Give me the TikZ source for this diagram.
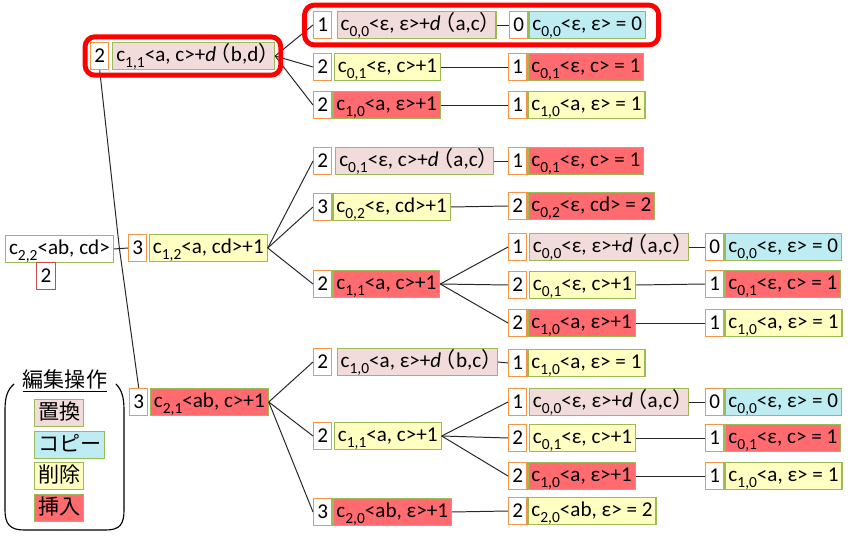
\documentclass[tikz,border=0pt]{standalone}
\usepackage{fontspec}
\setmainfont{Carlito}
\newfontfamily\jp{Noto Sans CJK JP}
\usetikzlibrary{positioning}
\definecolor{subfill}{HTML}{F2DCDB}
\definecolor{copyfill}{HTML}{BEECF3}
\definecolor{delfill}{HTML}{FFFFC2}
\definecolor{insfill}{HTML}{FF6B6E}
\definecolor{opline}{HTML}{9BBB59}
\definecolor{costline}{HTML}{F79646}
\definecolor{rootline}{HTML}{C0504D}
\newcommand\cij[1]{c\raisebox{-0.6ex}{\fontsize{11}{11}\selectfont #1}}
\newcommand\dist[1]{\textit{d}\kern-0.3em{\jp （}#1{\jp ）}\kern-0.4em}
\tikzstyle{cost}=[rectangle, draw=costline, fill=white, line width=0.8pt, anchor=west, minimum width=13pt, minimum height=19.5pt, inner sep=1pt]
\tikzstyle{op}=[rectangle, draw=opline, line width=0.8pt, minimum height=19.5pt, inner xsep=2.5pt, inner ysep=2pt, text height=11pt, text depth=3.5pt]
\tikzstyle{opsub}=[op, fill=subfill]
\tikzstyle{opcopy}=[op, fill=copyfill]
\tikzstyle{opdel}=[op, fill=delfill]
\tikzstyle{opins}=[op, fill=insfill]
\tikzstyle{legend}=[op, anchor=west, font=\fontsize{15}{18}\selectfont\jp, text height=12pt, text depth=2.5pt]
\tikzstyle{link}=[draw, black!85, line width=0.7pt]
\tikzstyle{hilite}=[draw=red, line width=3.5pt, rounded corners=7pt]

\begin{document}
\begin{tikzpicture}[x=0.025cm, y=-0.025cm, every node/.style={font=\fontsize{15}{18}\selectfont}]
    \useasboundingbox (0,0) rectangle (850,544);

    % root
    \node[op, fill=white, anchor=west] (root) at (5,249) {\cij{2,2}<ab, cd>};
    \node[cost, draw=rootline, anchor=center] (rootn) at (46,276) {2};

    % first step
    \node[cost] (c11n) at (90,56) {2};
    \node[opsub] (c11) [right=2pt of c11n] {\cij{1,1}<a, c>+\dist{b,d}};
    \node[cost] (c12n) at (128,248) {3};
    \node[opdel] (c12) [right=1pt of c12n] {\cij{1,2}<a, cd>+1};
    \node[cost] (c21n) at (129,402) {3};
    \node[opins] (c21) [right=1pt of c21n] {\cij{2,1}<ab, c>+1};

    % below c11
    \node[cost] (p1n) at (313,25) {1};
    \node[opsub] (p1) [right=3pt of p1n] {\cij{0,0}<ε, ε>+\dist{a,c}};
    \node[cost] (p1en) at (509,25) {0};
    \node[opcopy] (p1e) [right=0pt of p1en] {\cij{0,0}<ε, ε> = 0};
    \node[cost] (p2n) at (313,67) {2};
    \node[opdel] (p2) [right=1pt of p2n] {\cij{0,1}<ε, c>+1};
    \node[cost] (p2en) at (508,67) {1};
    \node[opins] (p2e) [right=0pt of p2en] {\cij{0,1}<ε, c> = 1};
    \node[cost] (p3n) at (313,105) {2};
    \node[opins] (p3) [right=0pt of p3n] {\cij{1,0}<a, ε>+1};
    \node[cost] (p3en) at (508,105) {1};
    \node[opdel] (p3e) [right=0pt of p3en] {\cij{1,0}<a, ε> = 1};

    % below c12
    \node[cost] (q1n) at (313,161) {2};
    \node[opsub] (q1) [right=2pt of q1n] {\cij{0,1}<ε, c>+\dist{a,c}};
    \node[cost] (q1en) at (508,161) {1};
    \node[opins] (q1e) [right=0pt of q1en] {\cij{0,1}<ε, c> = 1};
    \node[cost] (q2n) at (313,207) {3};
    \node[opdel] (q2) [right=0pt of q2n] {\cij{0,2}<ε, cd>+1};
    \node[cost] (q2en) at (508,206) {2};
    \node[opins] (q2e) [right=0pt of q2en] {\cij{0,2}<ε, cd> = 2};
    \node[cost] (q3n) at (313,284) {2};
    \node[opins] (q3) [right=0pt of q3n] {\cij{1,1}<a, c>+1};
    \node[cost] (q31n) at (508,247) {1};
    \node[opsub] (q31) [right=1pt of q31n] {\cij{0,0}<ε, ε>+\dist{a,c}};
    \node[cost] (q31en) at (705,247) {0};
    \node[opcopy] (q31e) [right=0pt of q31en] {\cij{0,0}<ε, ε> = 0};
    \node[cost] (q32n) at (508,285) {2};
    \node[opdel] (q32) [right=1pt of q32n] {\cij{0,1}<ε, c>+1};
    \node[cost] (q32en) at (705,284) {1};
    \node[opins] (q32e) [right=0pt of q32en] {\cij{0,1}<ε, c> = 1};
    \node[cost] (q33n) at (508,323) {2};
    \node[opins] (q33) [right=0pt of q33n] {\cij{1,0}<a, ε>+1};
    \node[cost] (q33en) at (705,323) {1};
    \node[opdel] (q33e) [right=0pt of q33en] {\cij{1,0}<a, ε> = 1};

    % below c21
    \node[cost] (r1n) at (313,362) {2};
    \node[opsub] (r1) [right=3pt of r1n] {\cij{1,0}<a, ε>+\dist{b,c}};
    \node[cost] (r1en) at (508,363) {1};
    \node[opdel] (r1e) [right=0pt of r1en] {\cij{1,0}<a, ε> = 1};
    \node[cost] (r2n) at (313,436) {2};
    \node[opdel] (r2) [right=1pt of r2n] {\cij{1,1}<a, c>+1};
    \node[cost] (r21n) at (508,402) {1};
    \node[opsub] (r21) [right=1pt of r21n] {\cij{0,0}<ε, ε>+\dist{a,c}};
    \node[cost] (r21en) at (705,402) {0};
    \node[opcopy] (r21e) [right=0pt of r21en] {\cij{0,0}<ε, ε> = 0};
    \node[cost] (r22n) at (508,438) {2};
    \node[opdel] (r22) [right=1pt of r22n] {\cij{0,1}<ε, c>+1};
    \node[cost] (r22en) at (705,438) {1};
    \node[opins] (r22e) [right=0pt of r22en] {\cij{0,1}<ε, c> = 1};
    \node[cost] (r23n) at (508,476) {2};
    \node[opins] (r23) [right=0pt of r23n] {\cij{1,0}<a, ε>+1};
    \node[cost] (r23en) at (705,476) {1};
    \node[opdel] (r23e) [right=0pt of r23en] {\cij{1,0}<a, ε> = 1};
    \node[cost] (r3n) at (313,512) {3};
    \node[opins] (r3) [right=0pt of r3n] {\cij{2,0}<ab, ε>+1};
    \node[cost] (r3en) at (508,511) {2};
    \node[opdel] (r3e) [right=0pt of r3en] {\cij{2,0}<ab, ε> = 2};

    % connectors
    \coordinate (fork) at ([xshift=4pt]root.east);
    \draw[link] (root.east) -- (c12n.west);
    \draw[link] (fork) edge (c11n.south) edge (c21n.north);
    \draw[link] (c11.east) edge (p1n.west) edge (p2n.west) edge (p3n.west);
    \draw[link] (c12.east) edge (q1n.west) edge (q2n.west) edge (q3n.west);
    \draw[link] (q3.east) edge (q31n.west) edge (q32n.west) edge (q33n.west);
    \draw[link] (c21.east) edge (r1n.west) edge (r2n.west) edge (r3n.west);
    \draw[link] (r2.east) edge (r21n.west) edge (r22n.west) edge (r23n.west);
    \foreach \a in {p1,p2,p3,q1,q2,q31,q32,q33,r1,r21,r22,r23,r3}
        \draw[link] (\a.east) -- (\a en.west);

    % highlighted path
    \draw[hilite] ([xshift=-3.5pt,yshift=3.5pt]c11n.north west) rectangle ([xshift=4pt,yshift=-3.5pt]c11.south east);
    \draw[hilite] ([xshift=-6pt,yshift=4pt]p1n.north west) rectangle ([xshift=9pt,yshift=-4pt]p1e.south east);

    % legend
    \node[font=\fontsize{15}{18}\selectfont\jp] (legtitle) at (65,381) {\underline{編集操作}};
    \node[legend, fill=subfill] (lsub) at (34,413) {置換};
    \node[legend, fill=copyfill] (lcopy) at (34,445) {コピー};
    \node[legend, fill=delfill] (ldel) at (34,476) {削除};
    \node[legend, fill=insfill] (lins) at (34,508) {挿入};
    \draw[line width=0.8pt] (14,384) .. controls (7,390) and (5,398) .. (5,410) -- (5,510)
        .. controls (5,524) and (10,530) .. (24,530) -- (106,530)
        .. controls (120,530) and (124,524) .. (124,510) -- (124,410)
        .. controls (124,398) and (122,390) .. (116,384);
\end{tikzpicture}
\end{document}
